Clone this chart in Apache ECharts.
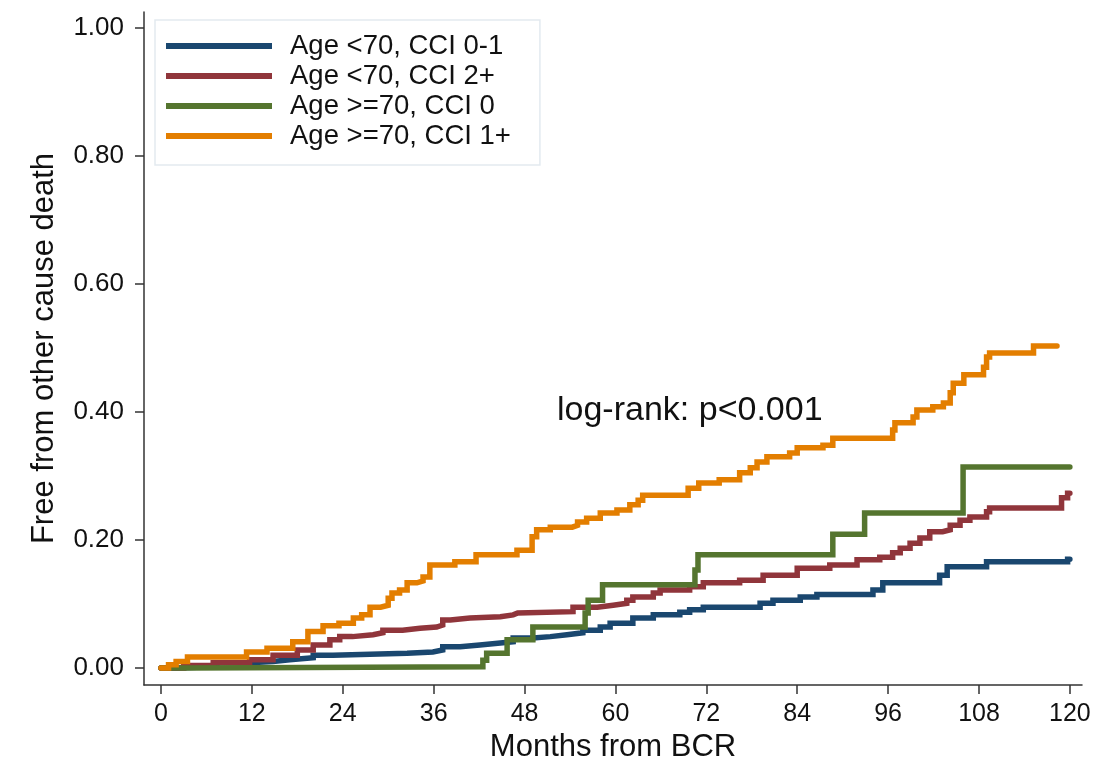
<!DOCTYPE html>
<html>
<head>
<meta charset="utf-8">
<script src="https://cdn.jsdelivr.net/npm/echarts@6/dist/echarts.min.js"></script>
<style>
html,body{margin:0;padding:0;background:#fff;}
#chart{width:1116px;height:763px;}
</style>
</head>
<body>
<div id="chart"></div>
<script>
// ---- data (months from BCR, cumulative value) ----
const seriesNames = ['Age <70, CCI 0-1', 'Age <70, CCI 2+', 'Age >=70, CCI 0', 'Age >=70, CCI 1+'];
const xTicks = [0, 12, 24, 36, 48, 60, 72, 84, 96, 108, 120];
const yTicks = [0, 0.2, 0.4, 0.6, 0.8, 1.0];

const age70lowCci = [
  [0,0],[1.8,0.002],[7.4,0.008],[11.7,0.010],[14.8,0.013],[17,0.016],[20.1,0.020],[22.7,0.023],
  [32.5,0.025],[35.9,0.028],[37.2,0.033],[39.5,0.036],[42.1,0.039],[44.8,0.041],[46.5,0.047],
  [49.1,0.049],[51.4,0.052],[53.6,0.055],[55.7,0.059],[58,0.064],[59.3,0.070],[62.3,0.078],
  [65,0.083],[68.5,0.087],[69.8,0.091],[71.6,0.095],[79.1,0.101],[80.8,0.106],[84.4,0.111],
  [86.6,0.115],[94,0.122],[95.3,0.133],[102.8,0.145],[103.8,0.158],[109,0.166],[119.7,0.170],[120,0.170]
];
const age70highCci = [
  [0,0],[3,0.004],[6.9,0.008],[11.7,0.013],[14.8,0.020],[18,0.028],[20.1,0.036],[22.3,0.044],
  [23.6,0.049],[25.3,0.052],[28,0.055],[29.3,0.059],[31.9,0.062],[34.2,0.064],[36.4,0.067],
  [37.2,0.075],[38.2,0.078],[40.8,0.080],[44.8,0.083],[46.5,0.086],[47.1,0.088],[54.4,0.095],
  [57.6,0.098],[59.7,0.101],[61.5,0.106],[62.3,0.111],[65,0.117],[65.9,0.122],[69.8,0.127],
  [71.6,0.133],[76.4,0.137],[79.5,0.145],[84,0.156],[88.3,0.161],[91.9,0.169],[94.9,0.173],
  [96.6,0.180],[97.6,0.187],[98.9,0.195],[100.2,0.203],[101.5,0.213],[103.2,0.216],[104.2,0.223],
  [105.5,0.231],[106.8,0.236],[109,0.244],[109.4,0.250],[118.9,0.266],[119.7,0.273],[120,0.273]
];
const age70plusCci0 = [
  [0,0],[3.5,0.002],[42.5,0.012],[43,0.023],[45.7,0.044],[49.1,0.064],[56,0.086],[56.4,0.106],
  [58.3,0.130],[70.5,0.153],[70.9,0.177],[88.7,0.209],[92.9,0.242],[105.9,0.314],[120,0.314]
];
const age70plusCci1 = [
  [0,0],[1,0.005],[2,0.010],[3.5,0.017],[11.3,0.025],[14,0.031],[17.4,0.041],[19.4,0.057],
  [21.4,0.066],[23.5,0.070],[25.4,0.078],[26.5,0.083],[27.6,0.095],[29,0.098],[30,0.109],
  [30.5,0.117],[31.5,0.122],[32.5,0.133],[33.8,0.136],[34.6,0.142],[35.5,0.161],[38.8,0.166],
  [41.6,0.177],[47,0.184],[49,0.205],[49.6,0.216],[51.4,0.220],[54.3,0.223],[55,0.228],
  [56.2,0.234],[58,0.242],[60.2,0.247],[61.9,0.255],[63,0.262],[63.6,0.270],[69.6,0.281],
  [71,0.289],[73.7,0.294],[76.4,0.305],[77.8,0.313],[78.7,0.322],[80,0.330],[83,0.336],
  [84,0.344],[87.4,0.348],[88.7,0.359],[96.6,0.372],[96.9,0.383],[99.3,0.392],[99.8,0.403],
  [101.9,0.408],[103.3,0.414],[104.2,0.430],[104.6,0.445],[106,0.458],[108.6,0.470],
  [109,0.486],[109.4,0.492],[115.2,0.503],[118.3,0.503]
];
const seriesData = [age70lowCci, age70highCci, age70plusCci0, age70plusCci1];
const colors = ['#1a476f', '#90353b', '#55752f', '#e37e00'];
const annotation = 'log-rank: p<0.001';

const FONT = '"Liberation Sans", Arial, sans-serif';
const chart = echarts.init(document.getElementById('chart'), null, {renderer: 'canvas'});

chart.setOption({
  animation: false,
  backgroundColor: '#ffffff',
  textStyle: {fontFamily: FONT, color: '#111'},
  grid: {left: 144, right: 34, top: 12, bottom: 78, containLabel: false, outerBoundsMode: 'none'},
  xAxis: {
    type: 'value', min: -2.24, max: 121.6,
    name: 'Months from BCR', nameLocation: 'middle', nameGap: 44,
    nameTextStyle: {fontSize: 31, color: '#111', fontFamily: FONT},
    axisLine: {show: true, onZero: false, lineStyle: {color: '#333', width: 1.5}},
    axisTick: {show: true, length: 9, customValues: xTicks, lineStyle: {color: '#333', width: 1.5}},
    axisLabel: {customValues: xTicks, fontSize: 25, color: '#111', margin: 17, fontFamily: FONT},
    splitLine: {show: false}
  },
  yAxis: {
    type: 'value', min: -0.0266, max: 1.025,
    name: 'Free from other cause death', nameLocation: 'middle', nameGap: 84,
    nameTextStyle: {fontSize: 31, color: '#111', fontFamily: FONT},
    axisLine: {show: true, onZero: false, lineStyle: {color: '#333', width: 1.5}},
    axisTick: {show: true, length: 9, customValues: yTicks, lineStyle: {color: '#333', width: 1.5}},
    axisLabel: {customValues: yTicks, fontSize: 26, color: '#111', margin: 20, fontFamily: FONT,
      formatter: v => Number(v).toFixed(2)},
    splitLine: {show: false}
  },
  legend: {
    show: true, orient: 'vertical', left: 155, top: 20,
    data: seriesNames,
    icon: 'rect', itemWidth: 106, itemHeight: 6, itemGap: 0,
    padding: [11, 29, 14, 11],
    backgroundColor: '#fff', borderColor: '#e3eaf0', borderWidth: 1.5,
    textStyle: {fontSize: 27.5, color: '#111', lineHeight: 30, fontFamily: FONT, padding: [0, 0, 0, 13]}
  },
  graphic: [{
    type: 'text', left: 557, top: 394,
    style: {text: annotation, font: '34px "Liberation Sans", Arial, sans-serif', fill: '#111'}
  }],
  series: seriesData.map((d, i) => ({
    name: seriesNames[i], type: 'line', step: 'end', data: d,
    showSymbol: false, symbol: 'none',
    lineStyle: {color: colors[i], width: 5.5, cap: 'round', join: 'miter'},
    itemStyle: {color: colors[i]},
    z: 2 + i
  }))
});
</script>
</body>
</html>
